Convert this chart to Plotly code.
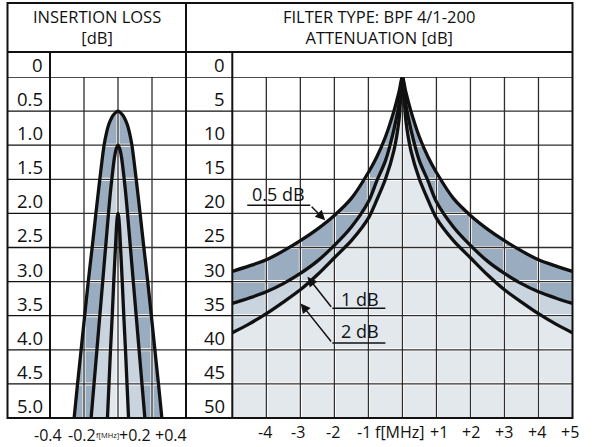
import plotly.graph_objects as go

# ---------------- data ----------------
# Insertion-loss panel: half-width (MHz) of each curve at the given loss (dB)
il_levels_05 = [0.5, 0.55, 0.6, 0.7, 0.8, 1.0, 1.5, 2.0, 2.5, 3.0, 3.5, 4.0, 4.5, 5.0]
il_halfw_05 = [0.0, 0.025, 0.038, 0.055, 0.066, 0.082, 0.107, 0.13, 0.152, 0.175, 0.196, 0.217, 0.238, 0.258]
il_levels_1 = [1.0, 1.05, 1.1, 1.2, 1.4, 1.7, 2.0, 2.5, 3.0, 3.5, 4.0, 4.5, 5.0]
il_halfw_1 = [0.0, 0.01, 0.015, 0.022, 0.032, 0.045, 0.056, 0.073, 0.09, 0.107, 0.124, 0.141, 0.158]
il_levels_2 = [2.0, 2.05, 2.1, 2.25, 2.5, 3.0, 3.5, 4.0, 4.5, 5.0]
il_halfw_2 = [0.0, 0.004, 0.006, 0.01, 0.015, 0.025, 0.034, 0.044, 0.053, 0.062]

# Attenuation panel: attenuation (dB) vs frequency offset (MHz), symmetric
att_freq = [0, 0.1, 0.25, 0.5, 0.75, 1.0, 1.5, 2.0, 2.5, 3.0, 3.5, 4.0, 4.5, 5.0]
att_05 = [0, 2.2, 5, 8.8, 11.7, 14, 17.8, 20.3, 22.3, 24, 25.5, 26.8, 27.7, 28.5]
att_1 = [0, 4.0, 7.7, 12.3, 15.2, 18.3, 22, 24.7, 27, 28.8, 30.3, 31.5, 32.4, 33.2]
att_2 = [0, 6.3, 10.8, 15, 18, 20.7, 24, 26.5, 29, 31.2, 33, 34.7, 36.2, 37.5]

il_yticks = [0, 0.5, 1.0, 1.5, 2.0, 2.5, 3.0, 3.5, 4.0, 4.5, 5.0]
il_ytext = ["0", "0.5", "1.0", "1.5", "2.0", "2.5", "3.0", "3.5", "4.0", "4.5", "5.0"]
att_yticks = [0, 5, 10, 15, 20, 25, 30, 35, 40, 45, 50]
att_ytext = ["0", "5", "10", "15", "20", "25", "30", "35", "40", "45", "50"]

il_xticks = [-0.4, -0.2, 0, 0.2, 0.4]
il_xtext = ["-0.4", "-0.2", "f[MHz]", "+0.2", "+0.4"]
att_xticks = [-4, -3, -2, -1, 0, 1, 2, 3, 4, 5]
att_xtext = ["-4", "-3", "-2", "-1", "f[MHz]", "+1", "+2", "+3", "+4", "+5"]

curve_labels = ["0.5 dB", "1 dB", "2 dB"]

# ---------------- style / layout ----------------
W, H = 600, 447
FONT = "Open Sans"
INK = "#111111"
GRID = "#2e2e2e"
DARK = "#9aacbf"
MID = "#c9d4df"
LIGHT = "#e3e8ed"

FL, FR, FT, FB = 7.5, 572.5, 3, 418
HEAD_B = 52
TOP = 77
L_SEP = 50
P_SEP = 186
R_SEP = 232.3


def px(x):
    return x / W


def py(y):
    return 1 - y / H


il_xshift = [-2.5, -2, -11, -17, -15]
att_xshift = [-1, -2, -1.5, -4, -2, 2.5, 1, 0, -1, -3]

# label geometry (data coords of the right panel)
lab_text_pos = [(-3.63, 17.2), (-1.25, 32.5), (-1.25, 37.3)]
lab_underline = [(-4.56, -2.71, 18.8), (-2.06, -0.5, 33.9), (-2.06, -0.5, 39.0)]
lab_arrow = [((-2.71, 18.8), (-2.27, 21.0)), ((-2.06, 33.9), (-2.79, 29.3)), ((-2.06, 39.0), (-2.99, 33.2))]

fig = go.Figure()


def il_shape(levels, halfw):
    xs = [-w for w in reversed(halfw)] + list(halfw[1:])
    ys = list(reversed(levels)) + list(levels[1:])
    return xs, ys


def att_shape(freq, att):
    xs = [-f for f in reversed(freq)] + list(freq[1:])
    ys = list(reversed(att)) + list(att[1:])
    return xs, ys


# ---- left panel fills ----
for lv, hw, col in [(il_levels_05, il_halfw_05, DARK), (il_levels_1, il_halfw_1, MID), (il_levels_2, il_halfw_2, LIGHT)]:
    xs, ys = il_shape(lv, hw)
    fig.add_trace(go.Scatter(x=xs, y=ys, mode="lines", fill="toself", fillcolor=col,
                             line=dict(width=0, shape="spline", smoothing=0.8),
                             xaxis="x", yaxis="y", hoverinfo="skip", showlegend=False))

# ---- right panel fills ----
fig.add_trace(go.Scatter(x=[-5, 5], y=[50, 50], mode="lines", line=dict(width=0),
                         xaxis="x2", yaxis="y2", hoverinfo="skip", showlegend=False))
for att, col in [(att_2, LIGHT), (att_1, MID), (att_05, DARK)]:
    xs, ys = att_shape(att_freq, att)
    fig.add_trace(go.Scatter(x=xs, y=ys, mode="lines", fill="tonexty", fillcolor=col,
                             line=dict(width=0, shape="spline", smoothing=0.8),
                             xaxis="x2", yaxis="y2", hoverinfo="skip", showlegend=False))


# ---- grid lines (over fills) ----
def grid_xy(vx, hy, xr, yr):
    gx, gy = [], []
    for v in vx:
        gx += [v, v, None]
        gy += [yr[0], yr[1], None]
    for v in hy:
        gx += [xr[0], xr[1], None]
        gy += [v, v, None]
    return gx, gy


gl = grid_xy(il_xticks[1:-1], il_yticks[1:-1], (-0.4, 0.4), (0, 5))
gr = grid_xy(att_xticks[:-1], att_yticks[1:-1], (-5, 5), (0, 50))
for (gx, gy), xa, ya in [(gl, "x", "y"), (gr, "x2", "y2")]:
    fig.add_trace(go.Scatter(x=gx, y=gy, mode="lines", line=dict(color="white", width=3),
                             xaxis=xa, yaxis=ya, hoverinfo="skip", showlegend=False))
    fig.add_trace(go.Scatter(x=gx, y=gy, mode="lines", line=dict(color=GRID, width=1.3),
                             xaxis=xa, yaxis=ya, hoverinfo="skip", showlegend=False))

# ---- curve outlines ----
for lv, hw in [(il_levels_05, il_halfw_05), (il_levels_1, il_halfw_1), (il_levels_2, il_halfw_2)]:
    xs, ys = il_shape(lv, hw)
    fig.add_trace(go.Scatter(x=xs, y=ys, mode="lines",
                             line=dict(color=INK, width=3.3, shape="spline", smoothing=0.8),
                             xaxis="x", yaxis="y", hoverinfo="skip", showlegend=False))
for att in [att_05, att_1, att_2]:
    xs, ys = att_shape(att_freq, att)
    fig.add_trace(go.Scatter(x=xs, y=ys, mode="lines",
                             line=dict(color=INK, width=3.3, shape="spline", smoothing=0.8),
                             xaxis="x2", yaxis="y2", hoverinfo="skip", showlegend=False))

# ---- frame / table shapes ----
shapes = []
LW = 2


def pline(x0, y0, x1, y1, w=LW):
    shapes.append(dict(type="line", xref="paper", yref="paper", x0=px(x0), y0=py(y0), x1=px(x1), y1=py(y1),
                       line=dict(color=INK, width=w), layer="above"))


shapes.append(dict(type="rect", xref="paper", yref="paper", x0=px(FL), x1=px(FR), y0=py(FB), y1=py(FT),
                   line=dict(color=INK, width=LW), layer="above"))
pline(FL, HEAD_B, FR, HEAD_B)
pline(P_SEP, FT, P_SEP, FB)
pline(L_SEP, HEAD_B, L_SEP, FB)
pline(R_SEP, HEAD_B, R_SEP, FB)
for v in il_yticks[:-1]:
    x1 = P_SEP if v == 0 else L_SEP
    shapes.append(dict(type="line", xref="paper", yref="y", x0=px(FL), x1=px(x1), y0=v, y1=v,
                       line=dict(color=INK, width=1.6 if v == 0 else 1.3), layer="above"))
for v in att_yticks[:-1]:
    x1 = FR if v == 0 else R_SEP
    shapes.append(dict(type="line", xref="paper", yref="y2", x0=px(P_SEP), x1=px(x1), y0=v, y1=v,
                       line=dict(color=INK, width=1.6 if v == 0 else 1.3), layer="above"))
# underlines of curve labels
for (xa, xb, yv) in lab_underline:
    shapes.append(dict(type="line", xref="x2", yref="y2", x0=xa, x1=xb, y0=yv, y1=yv,
                       line=dict(color=INK, width=1.5), layer="above"))

# ---- annotations ----
ann = []
TF = dict(family=FONT, size=16.5, color=INK)
ann.append(dict(text="INSERTION LOSS<br>[dB]", x=px((FL + P_SEP) / 2), y=py(27), xref="paper", yref="paper",
                showarrow=False, font=TF, xanchor="center", yanchor="middle", align="center"))
ann.append(dict(text="FILTER TYPE: BPF 4/1-200<br>ATTENUATION [dB]", x=px((P_SEP + FR) / 2), y=py(27),
                xref="paper", yref="paper", showarrow=False, font=TF, xanchor="center", yanchor="middle",
                align="center"))

YF = dict(family=FONT, size=18.5, color=INK)
for v, t in zip(il_yticks, il_ytext):
    ann.append(dict(text=t, x=px(45), y=v, xref="paper", yref="y", showarrow=False, font=YF,
                    xanchor="right", yanchor="bottom", yshift=-2))
for v, t in zip(att_yticks, att_ytext):
    ann.append(dict(text=t, x=px(227), y=v, xref="paper", yref="y2", showarrow=False, font=YF,
                    xanchor="right", yanchor="bottom", yshift=-2))

for v, t, s in zip(il_xticks, il_xtext, il_xshift):
    ann.append(dict(text=t, x=v, y=py(434.5), xref="x", yref="paper", showarrow=False,
                    font=dict(family=FONT, size=7.5 if "MHz" in t else 16, color=INK),
                    xanchor="center", yanchor="middle", xshift=s))
for v, t, s in zip(att_xticks, att_xtext, att_xshift):
    ann.append(dict(text=t, x=v, y=py(432), xref="x2", yref="paper", showarrow=False,
                    font=dict(family=FONT, size=16, color=INK),
                    xanchor="center", yanchor="middle", xshift=s))

for t, (tx, ty) in zip(curve_labels, lab_text_pos):
    ann.append(dict(text=t, x=tx, y=ty, xref="x2", yref="y2", showarrow=False,
                    font=dict(family=FONT, size=18, color=INK), xanchor="center", yanchor="middle"))
for (s, e) in lab_arrow:
    ann.append(dict(text="", x=e[0], y=e[1], ax=s[0], ay=s[1], xref="x2", yref="y2", axref="x2", ayref="y2",
                    showarrow=True, arrowhead=2, arrowsize=1.3, arrowwidth=1.5, arrowcolor=INK, standoff=0))

ax_common = dict(visible=False, showgrid=False, zeroline=False, fixedrange=True)
fig.update_layout(
    width=W, height=H, margin=dict(l=0, r=0, t=0, b=0),
    paper_bgcolor="white", plot_bgcolor="rgba(0,0,0,0)",
    xaxis=dict(domain=[px(L_SEP), px(P_SEP)], range=[-0.4, 0.4], anchor="y", **ax_common),
    yaxis=dict(domain=[py(FB), py(TOP)], range=[5, 0], anchor="x", **ax_common),
    xaxis2=dict(domain=[px(R_SEP), px(FR)], range=[-5, 5], anchor="y2", **ax_common),
    yaxis2=dict(domain=[py(FB), py(TOP)], range=[50, 0], anchor="x2", **ax_common),
    shapes=shapes, annotations=ann, showlegend=False,
)

fig.write_html("out.html")
